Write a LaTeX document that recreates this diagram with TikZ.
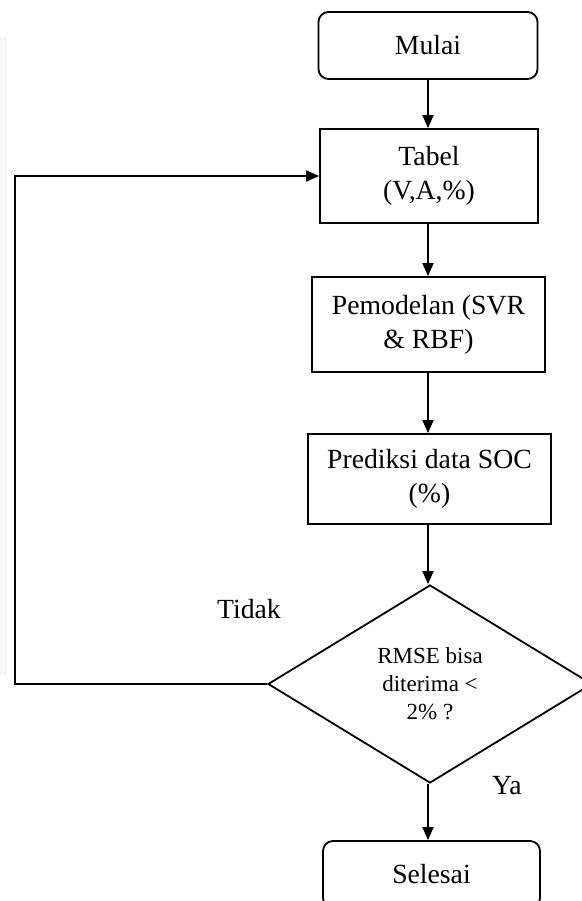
\documentclass[tikz,border=0pt]{standalone}
\usepackage{fontspec}
\setmainfont{Liberation Serif}
\usetikzlibrary{shapes.geometric,arrows.meta}
\begin{document}
\begin{tikzpicture}[x=0.5pt,y=-0.5pt,
  every node/.style={font=\fontsize{13.85}{17}\selectfont},
  box/.style={draw, line width=0.9pt, inner sep=0pt, align=center},
  term/.style={box, rounded corners=5pt},
  decision/.style={draw, line width=0.9pt, diamond, inner sep=0pt, align=center,
    font=\fontsize{11.5}{14}\selectfont},
  arr/.style={line width=0.9pt, -{Triangle[width=5.5pt,length=6.5pt]}},
  lbl/.style={inner sep=0pt},
]
\fill[white] (0,0) rectangle (582,901);
\useasboundingbox (0,0) rectangle (582,901);
\fill[black!3] (0,37) rectangle (7,675);

\node[term, minimum width=109.5pt, minimum height=33.5pt] (start) at (428,45.5) {Mulai};
\node[box, minimum width=109pt, minimum height=47pt] (tab) at (429,176) {Tabel\\(V,A,\%)};
\node[box, minimum width=116.5pt, minimum height=47.5pt] (model) at (428.5,324.5) {Pemodelan (SVR\\\& RBF)};
\node[box, minimum width=121.5pt, minimum height=45pt] (pred) at (429.5,479) {Prediksi data SOC\\(\%)};
\node[decision, minimum width=162pt, minimum height=99pt] (dec) at (430,684) {RMSE bisa\\diterima <\\2\% ?};
\node[term, minimum width=108.5pt, minimum height=33.5pt] (end) at (431.5,874.5) {Selesai};

\node[lbl] (tidak) at (249,609) {Tidak};
\node[lbl] (ya) at (507,786) {Ya};

\coordinate (c1) at (15,684);

\draw[arr] (start.south) -- (start.south |- tab.north);
\draw[arr] (tab.south -| start.south) -- (start.south |- model.north);
\draw[arr] (model.south -| start.south) -- (start.south |- pred.north);
\draw[arr] (pred.south -| start.south) -- (start.south |- dec.north);
\draw[arr] (dec.south -| start.south) -- (start.south |- end.north);
\draw[arr] (dec.west) -- (c1) |- (tab.west);
\end{tikzpicture}
\end{document}
